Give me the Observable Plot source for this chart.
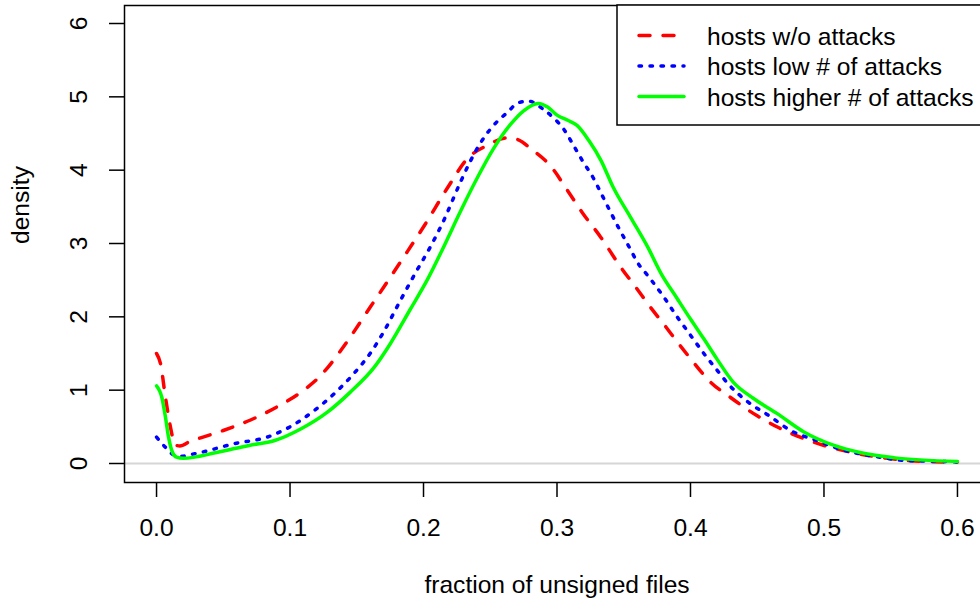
<!DOCTYPE html>
<html><head><meta charset="utf-8">
<script src="https://cdn.jsdelivr.net/npm/d3@7"></script>
<script src="https://cdn.jsdelivr.net/npm/@observablehq/plot@0.6"></script>
<style>
html,body{margin:0;padding:0;background:#fff;overflow:hidden;width:980px;height:604px;}
#chart{width:990px;height:604px;}
#chart svg{max-width:none !important;display:block;}
</style></head><body><div id="chart"></div>
<script>
// ---- data ----
const seriesNames = ["hosts w/o attacks", "hosts low # of attacks", "hosts higher # of attacks"];
const seriesColors = ["#ff0000", "#0000ff", "#00ff00"];
const seriesDash = ["11,13", "2.5,8.5", null];

const xRed = [0.000,0.003,0.0067,0.0105,0.014,0.0175,0.025,0.033,0.050,0.070,0.090,0.108,0.123,0.138,0.145,0.160,0.170,0.185,0.2015,0.218,0.233,0.248,0.263,0.270,0.282,0.295,0.308,0.319,0.333,0.348,0.360,0.370,0.380,0.390,0.400,0.415,0.430,0.450,0.467,0.485,0.505,0.525,0.548,0.572,0.600];
const dRed = [1.50,1.36,0.90,0.49,0.25,0.24,0.30,0.35,0.45,0.59,0.77,0.97,1.20,1.54,1.72,2.13,2.40,2.81,3.27,3.76,4.16,4.34,4.44,4.42,4.27,4.06,3.72,3.42,3.08,2.67,2.38,2.13,1.90,1.66,1.43,1.11,0.90,0.65,0.48,0.34,0.22,0.136,0.07,0.03,0.02];

const xBlue = [0.000,0.0067,0.014,0.020,0.025,0.033,0.058,0.083,0.100,0.118,0.133,0.148,0.160,0.170,0.182,0.194,0.205,0.214,0.228,0.235,0.243,0.255,0.263,0.271,0.279,0.289,0.297,0.305,0.312,0.319,0.327,0.334,0.346,0.355,0.360,0.369,0.380,0.390,0.400,0.410,0.420,0.428,0.443,0.459,0.475,0.495,0.515,0.537,0.562,0.592,0.600];
const dBlue = [0.36,0.22,0.11,0.10,0.12,0.15,0.27,0.36,0.50,0.72,0.95,1.23,1.50,1.79,2.20,2.60,2.95,3.27,3.85,4.12,4.38,4.66,4.79,4.92,4.94,4.84,4.72,4.56,4.35,4.13,3.90,3.65,3.22,2.92,2.75,2.54,2.27,2.00,1.75,1.50,1.27,1.09,0.84,0.65,0.45,0.31,0.18,0.10,0.04,0.027,0.02];

const xGreen = [0.000,0.004,0.0067,0.009,0.012,0.015,0.020,0.045,0.070,0.088,0.108,0.128,0.145,0.163,0.175,0.190,0.203,0.215,0.228,0.241,0.252,0.265,0.275,0.286,0.293,0.300,0.308,0.315,0.324,0.333,0.342,0.355,0.368,0.378,0.390,0.400,0.410,0.420,0.432,0.447,0.465,0.485,0.507,0.527,0.552,0.600];
const dGreen = [1.06,0.90,0.63,0.36,0.15,0.086,0.07,0.15,0.25,0.31,0.47,0.70,0.97,1.31,1.63,2.10,2.51,2.95,3.45,3.92,4.28,4.62,4.81,4.91,4.86,4.75,4.68,4.61,4.40,4.13,3.77,3.36,2.95,2.59,2.25,1.97,1.70,1.42,1.11,0.89,0.68,0.43,0.25,0.15,0.08,0.027];

const xTicks = [0, 0.1, 0.2, 0.3, 0.4, 0.5, 0.6];
const yTicks = [0, 1, 2, 3, 4, 5, 6];
const xLabel = "fraction of unsigned files";
const yLabel = "density";

// ---- build ----
const toRows = (xs, ds) => xs.map((x, i) => ({x, d: ds[i]}));
const series = [toRows(xRed, dRed), toRows(xBlue, dBlue), toRows(xGreen, dGreen)];

const FONT = "'Liberation Sans', Arial, Helvetica, sans-serif";
const FS = 24.6;

const lineMarks = series.map((rows, i) => Plot.line(rows, {
  x: "x", y: "d", stroke: seriesColors[i], strokeWidth: 3.5,
  strokeDasharray: seriesDash[i] || undefined, strokeLinecap: "round", strokeLinejoin: "round",
  curve: "monotone-x"
}));

const chart = Plot.plot({
  width: 990, height: 604,
  marginLeft: 124, marginRight: 1, marginTop: 5, marginBottom: 122,
  style: {fontFamily: FONT, fontSize: FS + "px", background: "white", color: "black", maxWidth: "none"},
  x: {domain: [-0.024, 0.624]},
  y: {domain: [-0.2591, 6.2455]},
  marks: [
    Plot.ruleY([0], {stroke: "#d6d6d6", strokeWidth: 2}),
    ...lineMarks,
    Plot.frame({stroke: "black", strokeWidth: 1.5}),
    Plot.axisX(xTicks, {tickSize: 15, tickPadding: 21, tickFormat: d3.format(".1f"), fontSize: FS, strokeWidth: 1.5, label: null}),
    Plot.axisY(yTicks, {tickSize: 15, tickPadding: 23, tickRotate: -90, tickFormat: d3.format("d"), fontSize: FS, strokeWidth: 1.5, label: null}),
    Plot.text([yLabel], {frameAnchor: "left", dx: -103, rotate: -90, lineAnchor: "middle", fontSize: FS, text: d => d}),
    Plot.text([xLabel], {frameAnchor: "bottom", dy: 93, lineAnchor: "top", fontSize: FS, text: d => d})
  ]
});
document.getElementById("chart").appendChild(chart);

// ---- legend (R-style box, top right) ----
const svg = d3.select(chart);
const lg = svg.append("g").attr("font-family", FONT).attr("font-size", FS).attr("text-anchor", "start");
lg.append("rect").attr("x", 617).attr("y", 5).attr("width", 420).attr("height", 120)
  .attr("fill", "white").attr("stroke", "black").attr("stroke-width", 1.5);
const rowY = [35.5, 66, 96.5];
seriesNames.forEach((name, i) => {
  const ln = lg.append("line").attr("x1", 639).attr("x2", 684).attr("y1", rowY[i]).attr("y2", rowY[i])
    .attr("stroke", seriesColors[i]).attr("stroke-width", 3.5).attr("stroke-linecap", "round");
  if (seriesDash[i]) ln.attr("stroke-dasharray", seriesDash[i]);
  lg.append("text").attr("x", 707).attr("y", rowY[i] + 9).attr("fill", "black")
    .attr("text-anchor", "start").text(name);
});
</script></body></html>
